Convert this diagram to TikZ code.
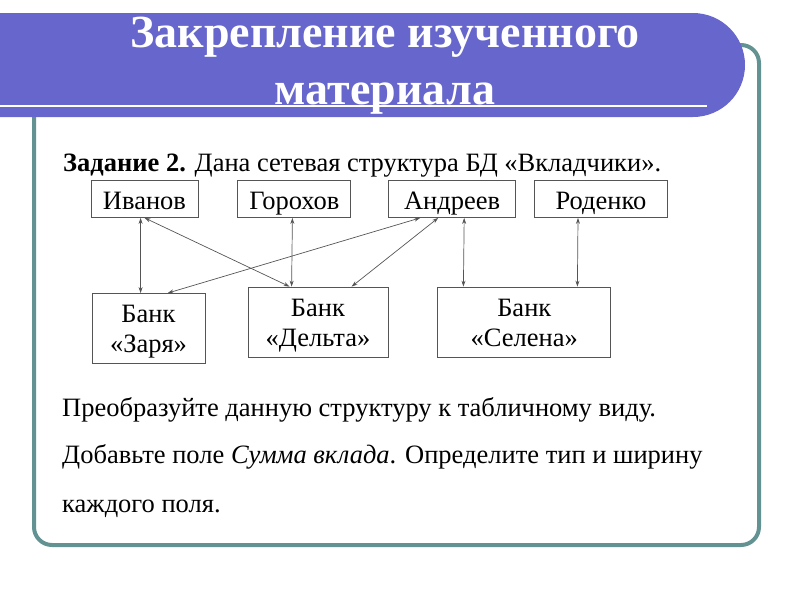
\documentclass[tikz,border=0pt]{standalone}
\usepackage{fontspec}
\setmainfont{Liberation Serif}
\usetikzlibrary{arrows.meta,positioning}
\definecolor{bannerblue}{RGB}{102,102,204}
\definecolor{frameteal}{RGB}{98,146,146}
\definecolor{linkgray}{RGB}{85,85,85}

\begin{document}
\begin{tikzpicture}[x=1pt, y=-1pt, font=\fontsize{26.5}{30}\selectfont]
\tikzstyle{person}=[draw=linkgray, line width=0.8pt, minimum height=37pt, inner sep=0pt, text height=20pt, text depth=0pt]
\tikzstyle{bank}=[draw=linkgray, line width=0.8pt, inner sep=0pt, align=center, minimum height=70pt, text height=50pt, text depth=2pt]
\tikzstyle{link}=[{Stealth[length=6pt,width=4pt]}-{Stealth[length=6pt,width=4pt]}, linkgray, line width=0.7pt]
\tikzstyle{textline}=[anchor=base west, inner sep=0pt, font=\fontsize{26.5}{30}\selectfont]
\useasboundingbox (0,0) rectangle (800,600);
% frame and title banner
\draw[frameteal, line width=4pt, rounded corners=18pt] (34,45) rectangle (759,545);
\fill[bannerblue] (0,13) -- (693,13) arc[start angle=-90, end angle=90, radius=52] -- (0,117) -- cycle;
\draw[white, line width=2.5pt] (0,106) -- (707,106);
\node[anchor=base, text=white, inner sep=0pt, font=\fontsize{46}{57}\bfseries] (title1) at (385,47) {Закрепление изученного};
\node[anchor=base, text=white, inner sep=0pt, font=\fontsize{46}{57}\bfseries] (title2) at (385,104) {материала};
% task
\node[textline] (task) at (63,171) {\textbf{Задание 2.} Дана сетевая структура БД «Вкладчики».};
% depositors
\node[person, minimum width=107pt] (ivanov) at (144.5,199) {Иванов};
\node[person, minimum width=113pt, right=39pt of ivanov] (gorokhov) {Горохов};
\node[person, minimum width=127pt, right=37pt of gorokhov] (andreev) {Андреев};
\node[person, minimum width=133pt, right=18pt of andreev] (rodenko) {Роденко};
% banks
\node[bank, minimum width=113pt] (zarya) at (148.5,328.5) {Банк\\«Заря»};
\node[bank, minimum width=140pt] (delta) at (318,322) {Банк\\«Дельта»};
\node[bank, minimum width=173pt, right=49pt of delta] (selena) {Банк\\«Селена»};
% links
\draw[link] ([xshift=50pt]ivanov.south west) -- ([xshift=49pt]zarya.north west);
\draw[link] ([xshift=54pt]ivanov.south west) -- ([xshift=42pt]delta.north west);
\draw[link] ([xshift=55pt]gorokhov.south west) -- ([xshift=44pt]delta.north west);
\draw[link] ([xshift=32pt]andreev.south west) -- ([xshift=76pt]zarya.north west);
\draw[link] ([xshift=50pt]andreev.south west) -- ([xshift=104pt]delta.north west);
\draw[link] ([xshift=76pt]andreev.south west) -- ([xshift=26pt]selena.north west);
\draw[link] ([xshift=44pt]rodenko.south west) -- ([xshift=140pt]selena.north west);
% exercise
\node[textline] (line1) at (62,416) {Преобразуйте данную структуру к табличному виду.};
\node[textline] (line2) at (62,463) {Добавьте поле \textit{Сумма вклада}. Определите тип и ширину};
\node[textline] (line3) at (62,512) {каждого поля.};
\end{tikzpicture}
\end{document}
